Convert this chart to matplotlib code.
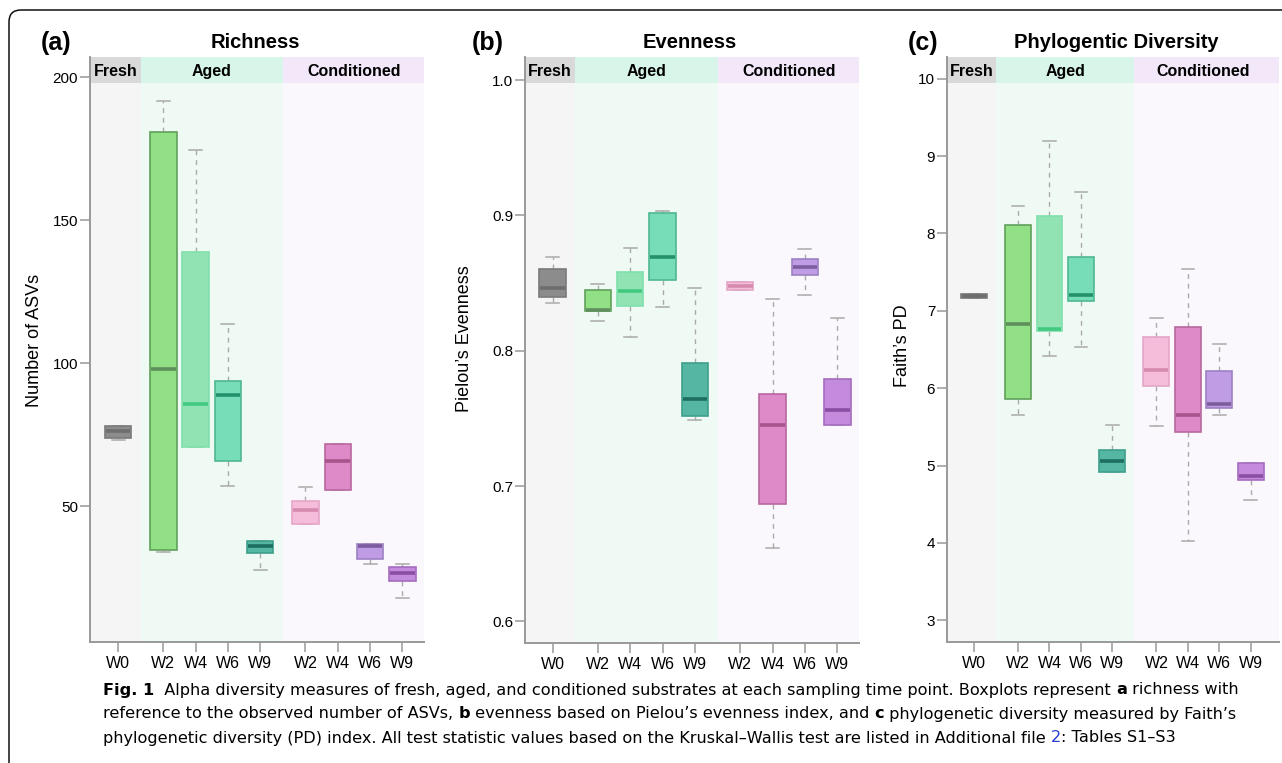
import numpy as np
import matplotlib.pyplot as plt
from matplotlib.patches import Rectangle, FancyBboxPatch
import matplotlib.transforms as mtransforms

plt.rcParams['font.family'] = ['Liberation Sans', 'DejaVu Sans']

# sampling points, shared by all three panels
labels = ['W0', 'W2', 'W4', 'W6', 'W9', 'W2', 'W4', 'W6', 'W9']
groups = ['Fresh', 'Aged', 'Conditioned']

# box statistics: lower whisker, q1, median, q3, upper whisker
rich_lo = [73.0, 33.9, 70.7, 56.9, 27.8, 43.8, 55.8, 29.8, 17.8]
rich_q1 = [73.7, 34.7, 70.7, 65.7, 33.7, 43.8, 55.8, 31.6, 23.7]
rich_med = [76.2, 97.8, 85.7, 88.9, 35.9, 48.8, 65.7, 35.9, 26.7]
rich_q3 = [78.0, 180.7, 138.7, 93.9, 37.7, 51.8, 71.8, 36.8, 28.6]
rich_hi = [78.0, 191.6, 174.5, 113.8, 37.7, 56.8, 71.8, 36.8, 29.6]

even_lo = [0.835, 0.822, 0.810, 0.832, 0.749, 0.845, 0.654, 0.841, 0.745]
even_q1 = [0.840, 0.829, 0.833, 0.852, 0.752, 0.845, 0.687, 0.856, 0.745]
even_med = [0.846, 0.830, 0.844, 0.869, 0.764, 0.848, 0.745, 0.862, 0.756]
even_q3 = [0.860, 0.845, 0.858, 0.902, 0.791, 0.851, 0.768, 0.868, 0.779]
even_hi = [0.869, 0.849, 0.876, 0.903, 0.846, 0.851, 0.838, 0.875, 0.824]

pd_lo = [7.16, 5.65, 6.42, 6.53, 4.92, 5.51, 4.03, 5.65, 4.56]
pd_q1 = [7.16, 5.86, 6.74, 7.13, 4.92, 6.03, 5.44, 5.74, 4.81]
pd_med = [7.19, 6.83, 6.76, 7.21, 5.06, 6.23, 5.66, 5.80, 4.86]
pd_q3 = [7.22, 8.11, 8.23, 7.70, 5.20, 6.66, 6.79, 6.22, 5.03]
pd_hi = [7.22, 8.35, 9.19, 8.53, 5.53, 6.91, 7.54, 6.57, 5.03]

# layout / style
pos = [0, 1.4, 2.4, 3.4, 4.4, 5.8, 6.8, 7.8, 8.8]
bounds = [(-1.5, 0.7), (0.7, 5.1), (5.1, 12)]
group_mid = [-0.08, 2.9, 7.3]
bg_cols = ['#f5f5f5', '#effaf4', '#faf8fc']
strip_cols = ['#d9d9d9', '#d8f5e9', '#f3e7fa']
fills = ['#8c8c8c', '#91e086', '#91e3b3', '#77ddb9', '#55b6a3',
         '#f6bddb', '#de89c8', '#bf9ce3', '#c48adc']
edges = ['#7a7a7a', '#62a05c', '#80dfad', '#4fb892', '#3f9f8c',
         '#e4a6c6', '#b9679f', '#9d80c4', '#a56cbf']
meds = ['#6e6e6e', '#5f8f5c', '#42c97f', '#23916b', '#1d6f60',
        '#d68aae', '#a9538c', '#7d5d9e', '#8a4ea4']

W, H = 1282, 763
fig = plt.figure(figsize=(W / 100, H / 100), dpi=100)

def px_axes(l, t, r, b):
    return fig.add_axes([l / W, 1 - b / H, (r - l) / W, (b - t) / H])

def panel(ax, lo, q1, med, q3, hi, ylim, yticks, yticklabels, xlim, ylabel, labx, laby):
    ax.set_xlim(*xlim)
    ax.set_ylim(*ylim)
    for (x0, x1), c in zip(bounds, bg_cols):
        ax.axvspan(x0, x1, color=c, lw=0, zorder=0)
    strip_h = 26 / 585
    trans = mtransforms.blended_transform_factory(ax.transData, ax.transAxes)
    for (x0, x1), c, g, m in zip(bounds, strip_cols, groups, group_mid):
        ax.add_patch(Rectangle((x0, 1 - strip_h), x1 - x0, strip_h, transform=trans,
                               color=c, lw=0, zorder=1))
        ax.text(m, 1 - strip_h * 0.55, g, transform=trans, ha='center', va='center',
                fontsize=11.5, fontweight='bold', zorder=2)
    stats = []
    for i in range(len(labels)):
        stats.append({'whislo': lo[i], 'q1': q1[i], 'med': med[i], 'q3': q3[i],
                      'whishi': hi[i], 'fliers': []})
    bp = ax.bxp(stats, positions=pos, widths=0.82, capwidths=0.4, patch_artist=True,
                showfliers=False, manage_ticks=False,
                whiskerprops=dict(color='#aaaaaa', lw=1.0, linestyle=(0, (3.5, 3.5))),
                capprops=dict(color='#aaaaaa', lw=1.1),
                medianprops=dict(lw=2.6, solid_capstyle='butt'),
                boxprops=dict(lw=1.2))
    for i, b in enumerate(bp['boxes']):
        b.set_facecolor(fills[i])
        b.set_edgecolor(edges[i])
        b.set_zorder(3)
        bp['medians'][i].set_color(meds[i])
        bp['medians'][i].set_zorder(4)
        # keep the median inside the box outline
        xd = bp['medians'][i].get_xdata()
        bp['medians'][i].set_xdata([xd[0] + 0.03, xd[1] - 0.03])
    for l in bp['whiskers'] + bp['caps']:
        l.set_zorder(2.5)
    ax.set_xticks(pos)
    ax.set_xticklabels(labels, fontsize=11.5)
    ax.set_yticks(yticks)
    ax.set_yticklabels(yticklabels, fontsize=11)
    ax.tick_params(axis='both', color='#999999', length=7, width=1.1)
    ax.tick_params(axis='y', pad=1.5)
    ax.tick_params(axis='x', pad=3)
    for s in ['top', 'right']:
        ax.spines[s].set_visible(False)
    for s in ['left', 'bottom']:
        ax.spines[s].set_color('#999999')
        ax.spines[s].set_linewidth(1.4)
    ax.set_ylabel(ylabel, fontsize=13)
    ax.yaxis.set_label_coords(labx, laby)

ax1 = px_axes(90, 57, 424, 642)
panel(ax1, rich_lo, rich_q1, rich_med, rich_q3, rich_hi, (2.5, 207),
      [50, 100, 150, 200], ['50', '100', '150', '200'], (-0.87, 9.47),
      'Number of ASVs', -0.14, 0.516)

ax2 = px_axes(525, 57, 859, 643)
panel(ax2, even_lo, even_q1, even_med, even_q3, even_hi, (0.584, 1.017),
      [0.6, 0.7, 0.8, 0.9, 1.0], ['0.6', '0.7', '0.8', '0.9', '1.0'], (-0.85, 9.47),
      'Pielou\u2019s Evenness', -0.156, 0.52)

ax3 = px_axes(947, 57, 1279, 642)
panel(ax3, pd_lo, pd_q1, pd_med, pd_q3, pd_hi, (2.72, 10.28),
      [3, 4, 5, 6, 7, 8, 9, 10], ['3', '4', '5', '6', '7', '8', '9', '10'], (-0.86, 9.7),
      'Faith\u2019s PD', -0.108, 0.506)

# overlay in pixel units for titles, frame and caption
ov = fig.add_axes([0, 0, 1, 1], zorder=-1)
ov.set_xlim(0, W)
ov.set_ylim(H, 0)
ov.axis('off')
ov.add_patch(FancyBboxPatch((9, 10), 1500, 1000, boxstyle='round,pad=0,rounding_size=12',
                            fill=False, lw=1.1, ec='#111111'))

for x, s in [(56, '(a)'), (488, '(b)'), (923, '(c)')]:
    ov.text(x, 43, s, ha='center', va='center', fontsize=18, fontweight='bold')
for x, s in [(255, 'Richness'), (690, 'Evenness'), (1116, 'Phylogentic Diversity')]:
    ov.text(x, 42, s, ha='center', va='center', fontsize=14.5, fontweight='bold')

cap_font = ['DejaVu Sans Condensed', 'Liberation Sans Narrow', 'DejaVu Sans']
caption = [
    [('Fig. 1', 'bold', 'k'), ('  Alpha diversity measures of fresh, aged, and conditioned substrates at each sampling time point. Boxplots represent ', 'normal', 'k'),
     ('a', 'bold', 'k'), (' richness with', 'normal', 'k')],
    [('reference to the observed number of ASVs, ', 'normal', 'k'), ('b', 'bold', 'k'),
     (' evenness based on Pielou\u2019s evenness index, and ', 'normal', 'k'), ('c', 'bold', 'k'),
     (' phylogenetic diversity measured by Faith\u2019s', 'normal', 'k')],
    [('phylogenetic diversity (PD) index. All test statistic values based on the Kruskal\u2013Wallis test are listed in Additional file ', 'normal', 'k'),
     ('2', 'normal', '#2a3fd6'), (': Tables S1\u2013S3', 'normal', 'k')],
]
renderer = fig.canvas.get_renderer()

def draw_row(row, y, size):
    x = 103
    arts = []
    for s, w, c in row:
        t = ov.text(x, y, s, ha='left', va='center', fontsize=size, fontweight=w,
                    color=c, family=cap_font)
        arts.append(t)
        x += t.get_window_extent(renderer).width
    return arts, x - 103

# size the caption so the first line spans the text block width
probe, width = draw_row(caption[0], 690, 12)
for t in probe:
    t.remove()
cap_size = 12 * 1129 / width
for row, y in zip(caption, [690, 714, 738]):
    draw_row(row, y, cap_size)

fig.savefig('out.png', dpi=100)
